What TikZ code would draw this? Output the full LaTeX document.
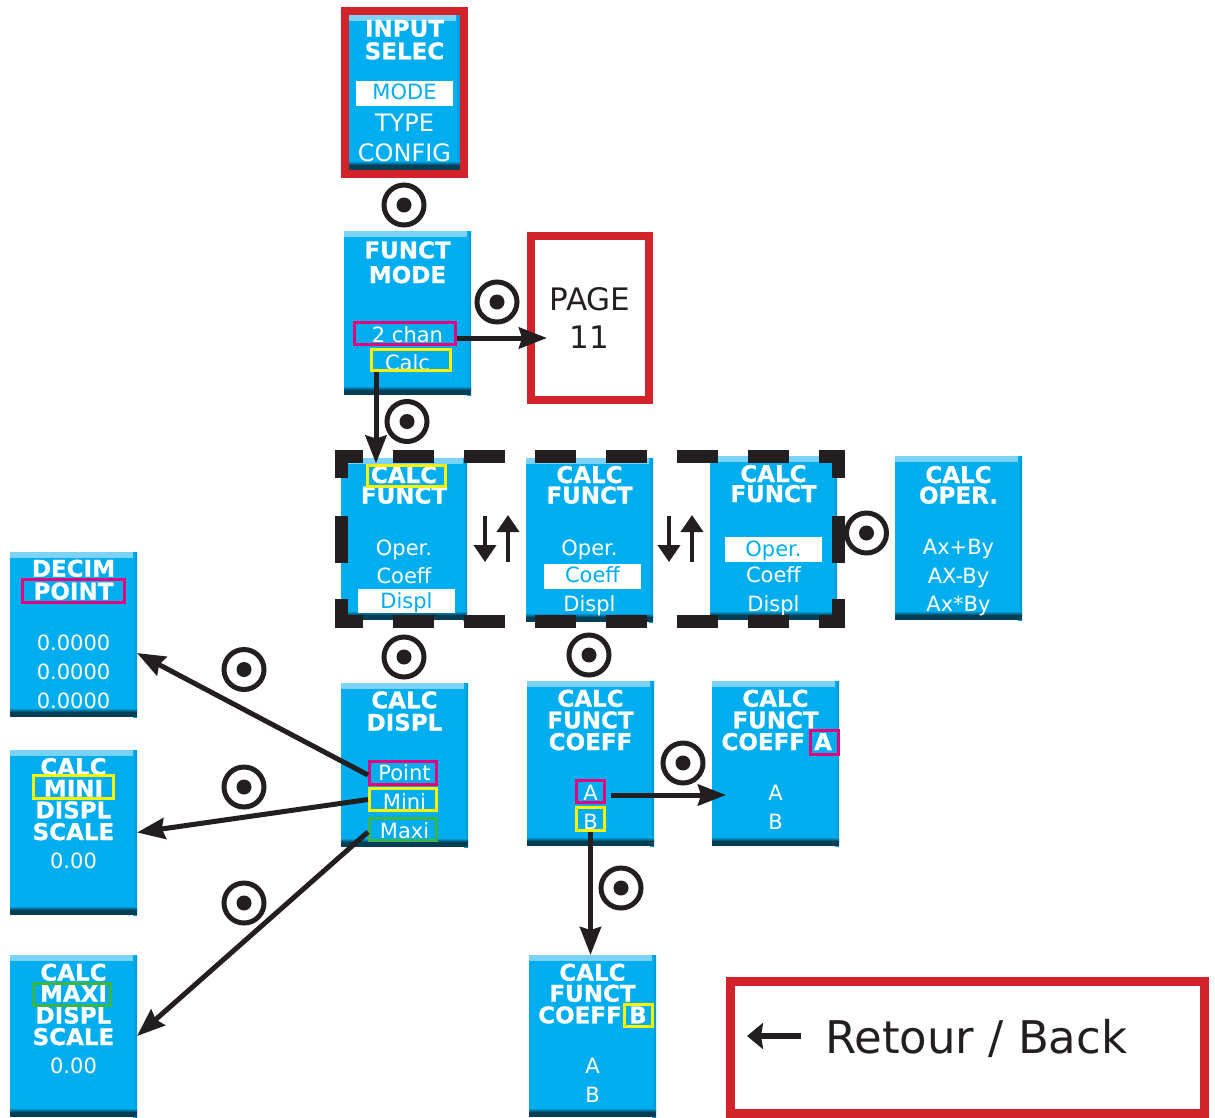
\documentclass[tikz,border=0pt]{standalone}
\usepackage{fontspec}
\setmainfont{DejaVu Sans}
\newfontfamily\ttlfont{DejaVu Sans}[BoldFont={DejaVu Sans Bold},BoldFeatures={FakeBold=0.7}]
\usetikzlibrary{arrows.meta,calc}
\definecolor{cyanc}{HTML}{00AEEF}
\definecolor{cyand}{HTML}{0094CE}
\definecolor{hil}{HTML}{7DD3F6}
\definecolor{darkc}{HTML}{053F56}
\definecolor{redc}{HTML}{D2232A}
\definecolor{magc}{HTML}{E6007E}
\definecolor{yelc}{HTML}{FFF200}
\definecolor{grnc}{HTML}{39B54A}
\definecolor{inkc}{HTML}{231F20}
\tikzset{
 blubox/.style={rectangle, inner sep=0pt, outer sep=0pt, fill=cyanc, minimum width=127pt,
   path picture={
     \shade[top color=hil, bottom color=cyanc] (path picture bounding box.north west) rectangle ([yshift=-5pt]path picture bounding box.north east);
     \shade[left color=cyanc, right color=cyand] ([xshift=-4pt]path picture bounding box.north east) rectangle (path picture bounding box.south east);
     \shade[top color=cyanc, bottom color=darkc] ([yshift=9pt]path picture bounding box.south west) rectangle ([yshift=5pt]path picture bounding box.south east);
     \fill[darkc] ([yshift=5pt]path picture bounding box.south west) rectangle (path picture bounding box.south east);
   }},
 redfr/.style={rectangle, draw=redc, line width=8pt, inner sep=0pt},
 hlb/.style={rectangle, fill=white, inner sep=0pt, minimum width=97pt, minimum height=25pt},
 fr/.style={rectangle, draw=#1, line width=2.6pt, inner sep=0pt},
 ttl/.style={font=\ttlfont\fontsize{23pt}{23pt}\selectfont\bfseries, text=white, inner sep=0pt, anchor=base},
 bod/.style={font=\fontsize{21pt}{21pt}\selectfont, text=white, inner sep=0pt, anchor=base},
 bigbod/.style={font=\fontsize{24pt}{24pt}\selectfont, text=white, inner sep=0pt, anchor=base},
 sel/.style={bod, text=cyanc},
 arr/.style={draw=inkc, line width=5pt, -{Stealth[length=28pt,width=21pt,inset=3pt]}},
 sarr/.style={draw=inkc, line width=4pt, -{Triangle[length=17pt,width=22pt]}},
 barr/.style={draw=inkc, line width=6pt, -{Stealth[length=16pt,width=26pt,inset=2pt]}},
 dfr/.style={draw=inkc, line width=13pt},
 push/.style={circle, draw=inkc, line width=5pt, minimum size=40pt, inner sep=0pt,
   path picture={\fill[inkc] (path picture bounding box.center) circle (7.5pt);}},
}
\begin{document}
\begin{tikzpicture}[x=1pt,y=-1pt]
\useasboundingbox (0,0) rectangle (1215,1117);
% ---- blue screens
\node[blubox, minimum width=111pt, minimum height=155pt] (inp) at (404.5,92.5) {};
\node[blubox, minimum height=164pt] (fm) at (407.5,313) {};
\node[blubox, minimum width=126pt, minimum height=162pt] (cf1) at (404,539) {};
\node[blubox, minimum height=164pt] (cf2) at (589.5,540) {};
\node[blubox, minimum height=164pt] (cf3) at (773.5,538) {};
\node[blubox, minimum height=164pt] (op) at (958.5,538) {};
\node[blubox, minimum height=165pt] (dp) at (73.5,634.5) {};
\node[blubox, minimum height=165pt] (mini) at (73.5,832.5) {};
\node[blubox, minimum height=162pt] (maxi) at (73.5,1036) {};
\node[blubox, minimum height=164pt] (disp) at (404.5,765) {};
\node[blubox, minimum height=165pt] (coef) at (590.5,763.5) {};
\node[blubox, minimum height=165pt] (coefA) at (775.5,763.5) {};
\node[blubox, minimum height=162pt] (coefB) at (592.5,1036) {};
% ---- red frames
\node[redfr, minimum width=119pt, minimum height=163pt] (inpF) at (404.5,92.5) {};
\node[redfr, minimum width=118pt, minimum height=164pt] (page) at (589.5,317.5) {};
\node[redfr, line width=9pt, minimum width=474pt, minimum height=132pt] (back) at (967,1047) {};
% ---- white highlights
\node[hlb] (modeH) at (404.5,93.5) {};
\node[hlb, minimum height=24pt] (dsplH) at (406.5,601) {};
\node[hlb] (coeffH) at (592.5,576.5) {};
\node[hlb] (operH) at (773.5,549.5) {};
% ---- texts
\node[ttl] (inpA) at (404.5,36.7) {INPUT};
\node[ttl] (inpB) at (404.5,59.3) {SELEC};
\node[sel] (inpC) at (404.5,99) {MODE};
\node[bigbod] (inpD) at (404.5,131.7) {TYPE};
\node[bigbod] (inpE) at (404.5,161.7) {CONFIG};

\node[ttl] (fmA) at (407.5,258.3) {FUNCT};
\node[ttl] (fmB) at (407.5,283) {MODE};
\node[bod] (fmC) at (407.5,342.3) {2 chan};
\node[bod] (fmD) at (407.5,370) {Calc};

\node[font=\fontsize{31pt}{31pt}\selectfont, text=inkc, inner sep=0pt, anchor=base] (pgA) at (590,310) {PAGE};
\node[font=\fontsize{31pt}{31pt}\selectfont, text=inkc, inner sep=0pt, anchor=base] (pgB) at (589,348.3) {11};

\node[ttl] (c1A) at (404,483) {CALC};
\node[ttl] (c1B) at (404,503.5) {FUNCT};
\node[bod] (c1C) at (404,555) {Oper.};
\node[bod] (c1D) at (404,583) {Coeff};
\node[sel] (c1E) at (406.5,608) {Displ};

\node[ttl] (c2A) at (589.5,483) {CALC};
\node[ttl] (c2B) at (589.5,503.5) {FUNCT};
\node[bod] (c2C) at (589.5,555) {Oper.};
\node[sel] (c2D) at (592.5,582) {Coeff};
\node[bod] (c2E) at (589.5,611) {Displ};

\node[ttl] (c3A) at (773.5,482) {CALC};
\node[ttl] (c3B) at (773.5,502) {FUNCT};
\node[sel] (c3C) at (773.5,556) {Oper.};
\node[bod] (c3D) at (773.5,582) {Coeff};
\node[bod] (c3E) at (773.5,611) {Displ};

\node[ttl] (opA) at (958.5,483) {CALC};
\node[ttl] (opB) at (958.5,503.5) {OPER.};
\node[bod] (opC) at (958.5,554.3) {Ax+By};
\node[bod] (opD) at (958.5,583.3) {AX-By};
\node[bod] (opE) at (958.5,611.7) {Ax*By};

\node[ttl] (dpA) at (73.5,576.7) {DECIM};
\node[ttl] (dpB) at (73.5,599.5) {POINT};
\node[bod] (dpC) at (73.5,650) {0.0000};
\node[bod] (dpD) at (73.5,679.3) {0.0000};
\node[bod] (dpE) at (73.5,708.3) {0.0000};

\node[ttl] (mnA) at (73.5,775) {CALC};
\node[ttl] (mnB) at (73.5,796.7) {MINI};
\node[ttl] (mnC) at (73.5,818.3) {DISPL};
\node[ttl] (mnD) at (73.5,840) {SCALE};
\node[bod] (mnE) at (73.5,868.3) {0.00};

\node[ttl] (mxA) at (73.5,980.7) {CALC};
\node[ttl] (mxB) at (73.5,1001.7) {MAXI};
\node[ttl] (mxC) at (73.5,1023.5) {DISPL};
\node[ttl] (mxD) at (73.5,1045) {SCALE};
\node[bod] (mxE) at (73.5,1073.3) {0.00};

\node[ttl] (dsA) at (404.5,708.3) {CALC};
\node[ttl] (dsB) at (404.5,730.7) {DISPL};
\node[bod] (dsC) at (404.5,780.7) {Point};
\node[bod] (dsD) at (404.5,809.5) {Mini};
\node[bod] (dsE) at (404.5,838) {Maxi};

\node[ttl] (coA) at (590.5,706.7) {CALC};
\node[ttl] (coB) at (590.5,728.3) {FUNCT};
\node[ttl] (coC) at (590.5,750) {COEFF};
\node[bod] (coD) at (590.5,800) {A};
\node[bod] (coE) at (590.5,829) {B};

\node[ttl] (caA) at (775.5,706.7) {CALC};
\node[ttl] (caB) at (775.5,728.3) {FUNCT};
\node[ttl] (caC) at (763.3,750) {COEFF};
\node[ttl] (caD) at (823,750) {A};
\node[bod] (caE) at (775.5,800) {A};
\node[bod] (caF) at (775.5,829) {B};

\node[ttl] (cbA) at (592.5,980.7) {CALC};
\node[ttl] (cbB) at (592.5,1001.7) {FUNCT};
\node[ttl] (cbC) at (580,1023.3) {COEFF};
\node[ttl] (cbD) at (638,1023.3) {B};
\node[bod] (cbE) at (592.5,1073.3) {A};
\node[bod] (cbF) at (592.5,1102.7) {B};

\node[font=\fontsize{45pt}{45pt}\selectfont, text=inkc, inner sep=0pt, anchor=base west] (backT) at (825,1053) {Retour / Back};
% ---- coloured selection frames
\node[fr=magc, minimum width=101.5pt, minimum height=22.5pt] (chanF) at (405,333.5) {};
\node[fr=yelc, minimum width=79.5pt, minimum height=21.5pt] (calcF) at (411,360) {};
\node[fr=yelc, minimum width=78.5pt, minimum height=21.5pt] (c1F) at (406.5,476) {};
\node[fr=magc, minimum width=102.5pt, minimum height=23.5pt] (pointF) at (73.5,591) {};
\node[fr=yelc, minimum width=80.5pt, minimum height=23.5pt] (miniF) at (73.5,787) {};
\node[fr=grnc, minimum width=77.5pt, minimum height=22.5pt] (maxiF) at (72,994.5) {};
\node[fr=magc, minimum width=67.5pt, minimum height=23.5pt] (ptF) at (403,773) {};
\node[fr=yelc, minimum width=67.5pt, minimum height=22.5pt] (mnF) at (403,799.5) {};
\node[fr=grnc, minimum width=67.5pt, minimum height=22.5pt] (mxF) at (403,829.5) {};
\node[fr=magc, minimum width=28.5pt, minimum height=22.5pt] (aF) at (590.5,791.5) {};
\node[fr=yelc, minimum width=28.5pt, minimum height=23.5pt] (bF) at (590.5,819) {};
\node[fr=magc, minimum width=28.5pt, minimum height=24.5pt] (taF) at (824.5,742.5) {};
\node[fr=yelc, minimum width=28.5pt, minimum height=22.5pt] (tbF) at (638.5,1015.5) {};
% ---- dashed group frame
\draw[dfr, dash pattern=on 41pt off 30pt, dash phase=13.5pt] (335,456) -- (845,456);
\draw[dfr, dash pattern=on 41pt off 30pt, dash phase=13.5pt] (335,621.7) -- (845,621.7);
\draw[dfr, dash pattern=on 28pt off 38pt on 47pt off 36pt on 40pt off 30pt] (341.7,449.5) -- (341.7,628.2);
\draw[dfr, dash pattern=on 28pt off 38pt on 47pt off 36pt on 40pt off 30pt] (838.3,449.5) -- (838.3,628.2);
% ---- connectors
\coordinate (pgTip) at (547,338);
\draw[arr] (chanF.east |- pgTip) -- (pgTip);
\coordinate (cfTip) at (376,463.5);
\draw[arr] (calcF.south -| cfTip) -- (cfTip);
\draw[arr] ($(ptF.west)+(0,2)$) -- ($(dp.east)+(0,18.5)$);
\draw[arr] (mnF.west) -- (mini.east);
\draw[arr] ($(mxF.west)+(0,2.5)$) -- (maxi.east);
\coordinate (aTip) at (726,795);
\draw[arr] ($(aF.east |- aTip)+(5,0)$) -- (aTip);
\draw[arr] (bF.south) -- (bF.south |- coefB.north);
% ---- scroll arrows
\draw[sarr] (485,516) -- (485,562);
\draw[sarr] (508,562) -- (508,515);
\draw[sarr] (669,516) -- (669,562);
\draw[sarr] (692,562) -- (692,515);
% ---- back arrow
\coordinate (bkS) at (801,1036);
\coordinate (bkE) at (747,1036);
\draw[barr] (bkS) -- (bkE);
% ---- push symbols
\node[push] (s1) at (404,205) {};
\node[push] (s2) at (497,302) {};
\node[push] (s3) at (407,421.5) {};
\node[push] (s4) at (866.5,533) {};
\node[push] (s5) at (404,657) {};
\node[push] (s6) at (589,655) {};
\node[push] (s7) at (244,669.5) {};
\node[push] (s8) at (244,787) {};
\node[push] (s9) at (244,903) {};
\node[push] (s10) at (683,763) {};
\node[push] (s11) at (621,888) {};
\end{tikzpicture}
\end{document}
